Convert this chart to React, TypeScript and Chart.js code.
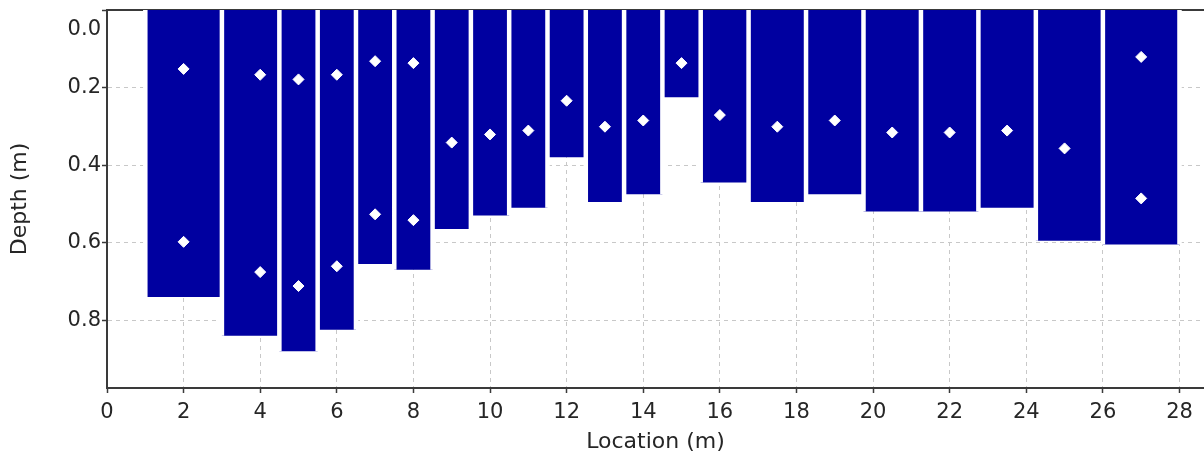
import React, { useEffect, useRef } from "react";
import { Chart, registerables } from "chart.js";

Chart.register(...registerables);

// Column boundaries along the profile (m) and depth of each column (m)
const columnEdges = [1, 3, 4.5, 5.5, 6.5, 7.5, 8.5, 9.5, 10.5, 11.5, 12.5, 13.5, 14.5, 15.5, 16.75, 18.25, 19.75, 21.25, 22.75, 24.25, 26, 28];
const columnDepths = [0.74, 0.84, 0.88, 0.825, 0.655, 0.67, 0.565, 0.53, 0.51, 0.38, 0.495, 0.475, 0.225, 0.445, 0.495, 0.475, 0.52, 0.52, 0.51, 0.595, 0.605];

// Measurement points (white diamonds)
const pointLocations = [2, 2, 4, 4, 5, 5, 6, 6, 7, 7, 8, 8, 9, 10, 11, 12, 13, 14, 15, 16, 17.5, 19, 20.5, 22, 23.5, 25, 27, 27];
const pointDepths = [0.152, 0.598, 0.167, 0.676, 0.179, 0.712, 0.167, 0.661, 0.132, 0.527, 0.137, 0.542, 0.342, 0.321, 0.311, 0.234, 0.301, 0.285, 0.137, 0.271, 0.301, 0.285, 0.316, 0.316, 0.311, 0.357, 0.121, 0.486];

// Axis settings
const xMin = 0;
const xMax = 28.64;
const xStep = 2;
const yMin = 0;
const yMax = 0.975;
const yStep = 0.2;
const xTitle = "Location (m)";
const yTitle = "Depth (m)";

const FONT = '"DejaVu Sans", Verdana, sans-serif';
const TEXT = "#262626";
const AXIS = "#3a3a3a";
const GRID = "#c8c8c8";
const BAR = "#0000a0";

export default function App() {
  const ref = useRef<HTMLCanvasElement | null>(null);

  useEffect(() => {
    const canvas = ref.current;
    if (!canvas) return;

    const stepData = columnDepths.map((d, i) => ({ x: columnEdges[i], y: d }));
    stepData.push({ x: columnEdges[columnEdges.length - 1], y: columnDepths[columnDepths.length - 1] });

    const sepData: { x: number; y: number | null }[] = [];
    columnEdges.forEach((e, i) => {
      const left = i > 0 ? columnDepths[i - 1] : 0;
      const right = i < columnDepths.length ? columnDepths[i] : 0;
      sepData.push({ x: e, y: 0 });
      sepData.push({ x: e, y: Math.max(left, right) });
      sepData.push({ x: e, y: null });
    });

    const pts = pointLocations.map((x, i) => ({ x, y: pointDepths[i] }));

    const chart = new Chart(canvas, {
      type: "line",
      data: {
        datasets: [
          {
            label: "points",
            data: pts,
            showLine: false,
            pointStyle: "rectRot",
            pointRadius: 5.5,
            pointBackgroundColor: "#ffffff",
            pointBorderColor: "#ffffff",
            pointBorderWidth: 1,
            order: 0,
          },
          {
            label: "separators",
            data: sepData as any,
            borderColor: "#ffffff",
            borderWidth: 4.5,
            pointRadius: 0,
            spanGaps: false,
            fill: false,
            order: 1,
          },
          {
            label: "columns",
            data: stepData,
            stepped: "before",
            borderWidth: 0,
            borderColor: BAR,
            backgroundColor: BAR,
            pointRadius: 0,
            fill: "origin",
            order: 2,
          },
        ],
      },
      options: {
        animation: false,
        responsive: false,
        events: [],
        layout: { autoPadding: false, padding: { top: 10, left: 0, right: 0, bottom: 0 } },
        plugins: {
          legend: { display: false },
          tooltip: { enabled: false },
        },
        scales: {
          x: {
            type: "linear",
            position: "bottom",
            min: xMin,
            max: xMax,
            ticks: {
              stepSize: xStep,
              includeBounds: false,
              color: TEXT,
              font: { family: FONT, size: 21 },
              padding: 7,
              callback: (v: any) => String(Math.round(Number(v))),
            },
            grid: {
              color: GRID,
              lineWidth: 1,
              tickColor: AXIS,
              tickLength: 5,
              tickWidth: 1.5,
            },
            border: { display: true, color: AXIS, width: 2, dash: [4, 4] },
            title: {
              display: true,
              text: xTitle,
              color: TEXT,
              font: { family: FONT, size: 22 },
              padding: { top: 0, bottom: 1 },
            },
            afterFit: (s: any) => {
              s.height = 68;
              s.paddingLeft = 0;
              s.paddingRight = 0;
            },
          },
          x2: {
            type: "linear",
            position: "top",
            min: xMin,
            max: xMax,
            ticks: { display: false },
            grid: { display: true, drawOnChartArea: false, drawTicks: false },
            border: { display: true, color: AXIS, width: 2 },
            afterFit: (s: any) => {
              s.height = 0;
              s.paddingLeft = 0;
              s.paddingRight = 0;
            },
          },
          y: {
            type: "linear",
            reverse: true,
            min: yMin,
            max: yMax,
            ticks: {
              stepSize: yStep,
              includeBounds: false,
              color: TEXT,
              padding: 1,
              font: (ctx: any) => ({
                family: FONT,
                size: 21,
                lineHeight: ctx.tick && ctx.tick.value === 0 ? 1.85 : 1.2,
              }),
              callback: (v: any) => (Number(v) === 0 ? ["", "0.0"] : Number(v).toFixed(1)),
            },
            grid: {
              color: GRID,
              lineWidth: 1,
              tickColor: AXIS,
              tickLength: 5,
              tickWidth: 1.5,
            },
            border: { display: true, color: AXIS, width: 2, dash: [4, 4] },
            title: {
              display: true,
              text: yTitle,
              color: TEXT,
              font: { family: FONT, size: 22 },
              padding: { top: 7, bottom: 0 },
            },
            afterFit: (s: any) => {
              s.width = 107;
              s.paddingTop = 0;
              s.paddingBottom = 0;
            },
          },
        },
      },
    } as any);

    return () => chart.destroy();
  }, []);

  return (
    <div style={{ position: "fixed", left: 0, top: 0, width: 1204, height: 456, background: "#ffffff" }}>
      <canvas ref={ref} width={1204} height={456} style={{ display: "block" }} />
    </div>
  );
}
